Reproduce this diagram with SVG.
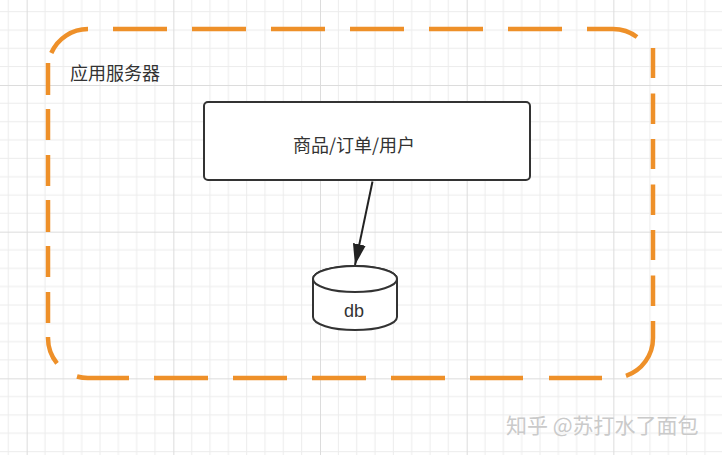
<svg xmlns="http://www.w3.org/2000/svg" width="722" height="455" viewBox="0 0 722 455">
<style>
.lbl{font-family:"Noto Sans CJK SC","Liberation Sans",sans-serif;font-size:18px;fill:#333}
.node{fill:#fff;stroke:#333;stroke-width:2}
.border{fill:none;stroke:#EE9029;stroke-width:4.5;stroke-linecap:butt}
.minor{stroke:#ececec;stroke-width:1;fill:none}
.major{stroke:#dcdcdc;stroke-width:1;fill:none}
</style>
<defs>
<pattern id="grid" x="26.67" y="85" width="146.67" height="146.67" patternUnits="userSpaceOnUse">
<path class="minor" d="M18.33 0V146.67M36.67 0V146.67M55 0V146.67M73.33 0V146.67M91.67 0V146.67M110 0V146.67M128.33 0V146.67M0 18.33H146.67M0 36.67H146.67M0 55H146.67M0 73.33H146.67M0 91.67H146.67M0 110H146.67M0 128.33H146.67"/>
<path class="major" d="M0.5 0V146.67M0 0.5H146.67"/>
</pattern>
<marker id="arrow" viewBox="0 0 21 13" refX="21" refY="6.5" markerWidth="21" markerHeight="13" markerUnits="userSpaceOnUse" orient="auto">
<path d="M0 0L21 6.5L0 13Z" fill="#222"/>
</marker>
</defs>
<rect width="722" height="455" fill="#fff"/>
<rect width="722" height="455" fill="url(#grid)"/>
<g id="app-server">
<path class="border" d="M51.3 53A40 40 0 0 1 88 29M113 29H167M192 29H246M271 29H325M350 29H404M429 29H483M508 29H562M587 29H613A40 40 0 0 1 637 37M653 48V78M653 93.5V124M653 139V169M653 184.5V215M653 230V260M653 275.5V306M653 321V338A40 40 0 0 1 626 375.8M602 378H549M523 378H470M445 378H391M366 378H312M287 378H233M208 378H154M129 378H88A40 40 0 0 1 77 376.5M48 337V338A40 40 0 0 0 57 363.3M48 323V292M48 277V246M48 232V200M48 186V155M48 140V109M48 95V63"/>
<text class="lbl" x="70" y="80">应用服务器</text>
</g>
<g id="connectors">
<line x1="372.5" y1="181.5" x2="355" y2="265" stroke="#222" stroke-width="2" marker-end="url(#arrow)"/>
</g>
<g id="node-services">
<rect class="node" x="204" y="102" width="326" height="78" rx="4"/>
<text class="lbl" x="354" y="152" text-anchor="middle">商品/订单/用户</text>
</g>
<g id="node-db">
<path class="node" d="M313 279V317A42 13 0 0 0 397 317V279A42 13 0 0 0 313 279Z"/>
<ellipse class="node" cx="355" cy="279" rx="42" ry="13" fill="none"/>
<text x="354" y="317" text-anchor="middle" font-family="'Liberation Sans',sans-serif" font-size="18" fill="#333">db</text>
</g>
<g id="watermark">
<text x="506" y="433" font-family="'Noto Sans CJK SC',sans-serif" font-size="21" fill="#cacaca">知乎 @苏打水了面包</text>
</g>
</svg>
